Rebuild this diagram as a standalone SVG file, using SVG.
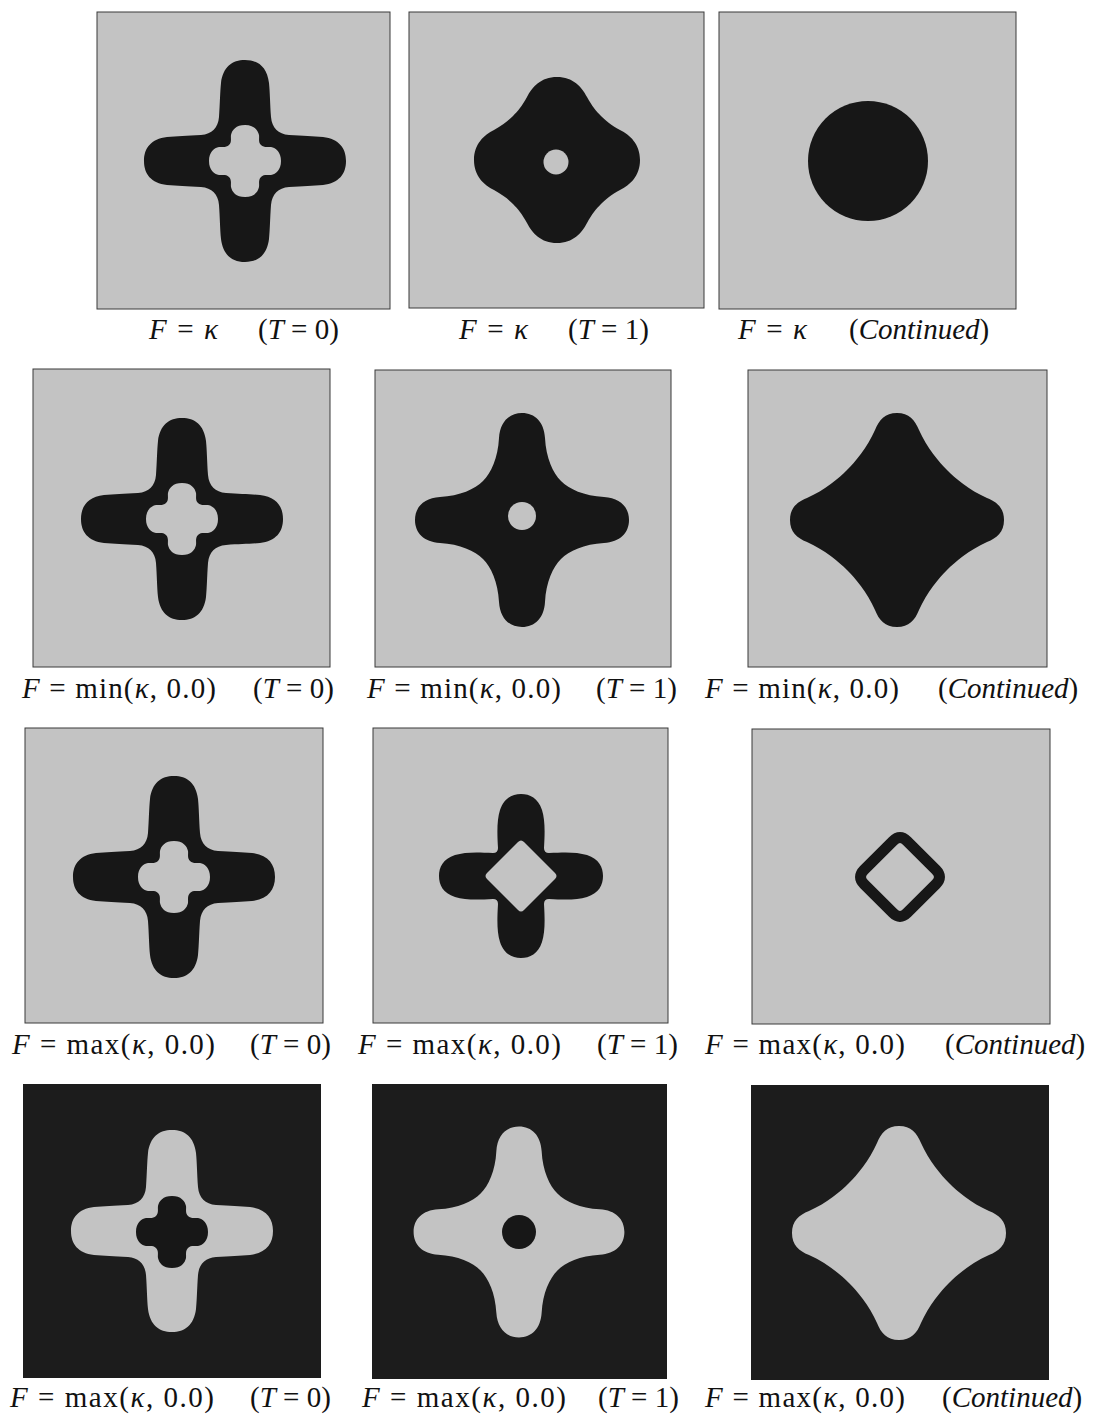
<svg xmlns="http://www.w3.org/2000/svg" xmlns:xlink="http://www.w3.org/1999/xlink" width="1094" height="1420" viewBox="0 0 1094 1420">
<style>
.pl{fill:#c3c3c3;stroke:#3a3a3a;stroke-width:1}
.pd{fill:#1c1c1c}
.dk{fill:#171717}
.lt{fill:#c3c3c3}
.ring{fill:none;stroke:#171717;stroke-width:11}
text{font-family:"Liberation Serif","Times New Roman",serif;font-size:29px;fill:#111;white-space:pre}
.it{font-style:italic}
</style>
<defs>
<path id="crossA" d="M 26,-44 C 25,-58 25,-68 24,-78 C 22,-94 13,-101 0,-101 C -13,-101 -22,-94 -24,-78 C -25,-68 -25,-58 -26,-44 C -27,-33 -33,-27 -44,-26 C -58,-25 -68,-25 -78,-24 C -94,-22 -101,-13 -101,0 C -101,13 -94,22 -78,24 C -68,25 -58,25 -44,26 C -33,27 -27,33 -26,44 C -25,58 -25,68 -24,78 C -22,94 -13,101 0,101 C 13,101 22,94 24,78 C 25,68 25,58 26,44 C 27,33 33,27 44,26 C 58,25 68,25 78,24 C 94,22 101,13 101,0 C 101,-13 94,-22 78,-24 C 68,-25 58,-25 44,-26 C 33,-27 27,-33 26,-44 Z"/>
<path id="holeA" d="M 0,-36 C 9,-36 13,-31 14,-26 C 14.5,-23 13,-19 16,-16 C 19,-13 23,-14.5 26,-14 C 31,-13 36,-9 36,0 C 36,9 31,13 26,14 C 23,14.5 19,13 16,16 C 13,19 14.5,23 14,26 C 13,31 9,36 0,36 C -9,36 -13,31 -14,26 C -14.5,23 -13,19 -16,16 C -19,13 -23,14.5 -26,14 C -31,13 -36,9 -36,0 C -36,-9 -31,-13 -26,-14 C -23,-14.5 -19,-13 -16,-16 C -13,-19 -14.5,-23 -14,-26 C -13,-31 -9,-36 0,-36 Z"/>
<path id="starB" d="M 0,-83 C 16,-83 25,-73 30,-63 C 35,-54 39,-49 44,-44 C 49,-39 54,-35 63,-30 C 73,-25 83,-16 83,0 C 83,16 73,25 63,30 C 54,35 49,39 44,44 C 39,49 35,54 30,63 C 25,73 16,83 0,83 C -16,83 -25,73 -30,63 C -35,54 -39,49 -44,44 C -49,39 -54,35 -63,30 C -73,25 -83,16 -83,0 C -83,-16 -73,-25 -63,-30 C -54,-35 -49,-39 -44,-44 C -39,-49 -35,-54 -30,-63 C -25,-73 -16,-83 0,-83 Z"/>
<path id="starC" d="M 0,-107 C 13,-107 22,-98 23,-82 C 24,-62 31,-47 39,-39 C 47,-31 62,-24 82,-23 C 98,-22 107,-13 107,0 C 107,13 98,22 82,23 C 62,24 47,31 39,39 C 31,47 24,62 23,82 C 22,98 13,107 0,107 C -13,107 -22,98 -23,82 C -24,62 -31,47 -39,39 C -47,31 -62,24 -82,23 C -98,22 -107,13 -107,0 C -107,-13 -98,-22 -82,-23 C -62,-24 -47,-31 -39,-39 C -31,-47 -24,-62 -23,-82 C -22,-98 -13,-107 0,-107 Z"/>
<path id="starD" d="M 0,-107 C 12,-107 18,-100 22,-90 C 30,-72 42,-58 50,-50 C 58,-42 72,-30 90,-22 C 100,-18 107,-12 107,0 C 107,12 100,18 90,22 C 72,30 58,42 50,50 C 42,58 30,72 22,90 C 18,100 12,107 0,107 C -12,107 -18,100 -22,90 C -30,72 -42,58 -50,50 C -58,42 -72,30 -90,22 C -100,18 -107,12 -107,0 C -107,-12 -100,-18 -90,-22 C -72,-30 -58,-42 -50,-50 C -42,-58 -30,-72 -22,-90 C -18,-100 -12,-107 0,-107 Z"/>
<path id="crossE" d="M 23,-28 C 24,-45 24,-56 21,-66 C 17,-78 9,-82 0,-82 C -9,-82 -17,-78 -21,-66 C -24,-56 -24,-45 -23,-28 Q -23,-23 -28,-23 C -45,-24 -56,-24 -66,-21 C -78,-17 -82,-9 -82,0 C -82,9 -78,17 -66,21 C -56,24 -45,24 -28,23 Q -23,23 -23,28 C -24,45 -24,56 -21,66 C -17,78 -9,82 0,82 C 9,82 17,78 21,66 C 24,56 24,45 23,28 Q 23,23 28,23 C 45,24 56,24 66,21 C 78,17 82,9 82,0 C 82,-9 78,-17 66,-21 C 56,-24 45,-24 28,-23 Q 23,-23 23,-28 Z"/>
<path id="diaE" d="M -3,-34 Q 0,-37 3,-34 L 34,-3 Q 37,0 34,3 L 3,34 Q 0,37 -3,34 L -34,3 Q -37,0 -34,-3 Z"/>
<path id="ringD" d="M -7.07,-35.93 Q 0,-43 7.07,-35.93 L 35.93,-7.07 Q 43,0 35.93,7.07 L 7.07,35.93 Q 0,43 -7.07,35.93 L -35.93,7.07 Q -43,0 -35.93,-7.07 Z"/>
</defs>

<rect width="1094" height="1420" fill="#ffffff"/>

<g id="p11">
<rect class="pl" x="97" y="12" width="293" height="297"/>
<use href="#crossA" class="dk" transform="translate(245,161)"/>
<use href="#holeA" class="lt" transform="translate(245,161)"/>
<text x="149" y="339" textLength="69"><tspan class="it">F</tspan> = <tspan class="it">κ</tspan></text>
<text x="258" y="339">(<tspan class="it">T</tspan> = 0)</text>
</g>
<g id="p12">
<rect class="pl" x="409" y="12" width="295" height="296"/>
<use href="#starB" class="dk" transform="translate(557,160)"/>
<circle class="lt" cx="556" cy="162" r="12.5"/>
<text x="459" y="339" textLength="69"><tspan class="it">F</tspan> = <tspan class="it">κ</tspan></text>
<text x="568" y="339">(<tspan class="it">T</tspan> = 1)</text>
</g>
<g id="p13">
<rect class="pl" x="719" y="12" width="297" height="297"/>
<circle class="dk" cx="868" cy="161" r="60"/>
<text x="738" y="339" textLength="69"><tspan class="it">F</tspan> = <tspan class="it">κ</tspan></text>
<text x="849" y="339">(<tspan class="it">Continued</tspan>)</text>
</g>

<g id="p21">
<rect class="pl" x="33" y="369" width="297" height="298"/>
<use href="#crossA" class="dk" transform="translate(182,519)"/>
<use href="#holeA" class="lt" transform="translate(182,519)"/>
<text x="22" y="698" textLength="194"><tspan class="it">F</tspan> = min(<tspan class="it">κ</tspan>, 0.0)</text>
<text x="253" y="698">(<tspan class="it">T</tspan> = 0)</text>
</g>
<g id="p22">
<rect class="pl" x="375" y="370" width="296" height="297"/>
<use href="#starC" class="dk" transform="translate(522,520)"/>
<circle class="lt" cx="522" cy="516" r="14"/>
<text x="367" y="698" textLength="194"><tspan class="it">F</tspan> = min(<tspan class="it">κ</tspan>, 0.0)</text>
<text x="596" y="698">(<tspan class="it">T</tspan> = 1)</text>
</g>
<g id="p23">
<rect class="pl" x="748" y="370" width="299" height="297"/>
<use href="#starD" class="dk" transform="translate(897,520)"/>
<text x="705" y="698" textLength="194"><tspan class="it">F</tspan> = min(<tspan class="it">κ</tspan>, 0.0)</text>
<text x="938" y="698">(<tspan class="it">Continued</tspan>)</text>
</g>

<g id="p31">
<rect class="pl" x="25" y="728" width="298" height="295"/>
<use href="#crossA" class="dk" transform="translate(174,877)"/>
<use href="#holeA" class="lt" transform="translate(174,877)"/>
<text x="12" y="1054" textLength="203"><tspan class="it">F</tspan> = max(<tspan class="it">κ</tspan>, 0.0)</text>
<text x="250" y="1054">(<tspan class="it">T</tspan> = 0)</text>
</g>
<g id="p32">
<rect class="pl" x="373" y="728" width="295" height="295"/>
<use href="#crossE" class="dk" transform="translate(521,876)"/>
<use href="#diaE" class="lt" transform="translate(521,876)"/>
<text x="358" y="1054" textLength="203"><tspan class="it">F</tspan> = max(<tspan class="it">κ</tspan>, 0.0)</text>
<text x="597" y="1054">(<tspan class="it">T</tspan> = 1)</text>
</g>
<g id="p33">
<rect class="pl" x="752" y="729" width="298" height="295"/>
<use href="#ringD" class="ring" transform="translate(900,877)"/>
<text x="705" y="1054" textLength="200"><tspan class="it">F</tspan> = max(<tspan class="it">κ</tspan>, 0.0)</text>
<text x="945" y="1054">(<tspan class="it">Continued</tspan>)</text>
</g>

<g id="p41">
<rect class="pd" x="23" y="1084" width="298" height="294"/>
<use href="#crossA" class="lt" transform="translate(172,1231)"/>
<use href="#holeA" class="dk" transform="translate(172,1232)"/>
<text x="10" y="1407" textLength="204"><tspan class="it">F</tspan> = max(<tspan class="it">κ</tspan>, 0.0)</text>
<text x="250" y="1407">(<tspan class="it">T</tspan> = 0)</text>
</g>
<g id="p42">
<rect class="pd" x="372" y="1084" width="295" height="295"/>
<use href="#starC" class="lt" transform="translate(519,1232) scale(0.985)"/>
<circle class="dk" cx="519" cy="1232" r="17"/>
<text x="362" y="1407" textLength="204"><tspan class="it">F</tspan> = max(<tspan class="it">κ</tspan>, 0.0)</text>
<text x="598" y="1407">(<tspan class="it">T</tspan> = 1)</text>
</g>
<g id="p43">
<rect class="pd" x="751" y="1085" width="298" height="295"/>
<use href="#starD" class="lt" transform="translate(899,1233)"/>
<text x="705" y="1407" textLength="200"><tspan class="it">F</tspan> = max(<tspan class="it">κ</tspan>, 0.0)</text>
<text x="942" y="1407">(<tspan class="it">Continued</tspan>)</text>
</g>
</svg>
